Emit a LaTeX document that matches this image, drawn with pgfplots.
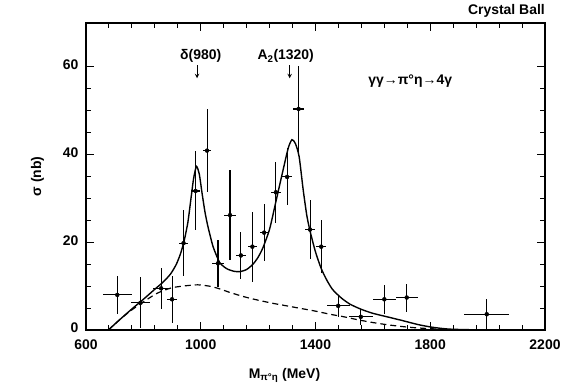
\documentclass[border=0pt]{standalone}
\usepackage{fontspec}
\setmainfont{Liberation Sans}
\usepackage{pgfplots}
\pgfplotsset{compat=1.18}
\pgfplotstableread{
x     y     ex   ey
709   8.0   50   4.4
790   6.2   32   5.8
862   9.5   29   4.7
900   7.0   17   5.3
940   19.8  17   7.6
982   31.7  17   9.0
1022  40.9  15   9.4
1060  15.2  20   5.3
1102  26.2  20   10.3
1140  17.0  17   5.3
1180  19.0  17   8.0
1221  22.2  16   6.5
1262  31.4  17   6.9
1301  34.9  18   6.5
1341  50.4  18   9.8
1381  22.9  17   6.7
1420  19.0  18   6.0
1479  5.5   40   2.5
1558  3.0   42   1.9
1640  7.0   41   3.3
1718  7.4   38   3.2
1997  3.6   78   3.4
}\datatable
\begin{document}
\begin{tikzpicture}
\begin{axis}[
  scale only axis, width=459bp, height=307bp,
  xmin=600, xmax=2200, ymin=0, ymax=70,
  xtick={600,1000,1400,1800,2200}, ytick={0,20,40,60},
  minor x tick num=4, minor y tick num=3,
  tick align=inside, major tick length=8bp, minor tick length=5bp,
  axis line style={line width=1.3pt},
  every tick/.style={line width=1pt, black},
  tick label style={font=\fontsize{14}{16}\selectfont\bfseries},
  /pgf/number format/assume math mode=true,
  /pgf/number format/set thousands separator={},
  xticklabel style={yshift=-6bp},
  yticklabel style={xshift=-4bp, yshift=2bp},
  xlabel={M\textsubscript{π°η} (MeV)},
  xlabel style={font=\fontsize{14}{16}\selectfont\bfseries, xshift=-31bp, yshift=-12bp},
  ylabel={σ (nb)},
  ylabel style={font=\fontsize{14}{16}\selectfont\bfseries, yshift=12bp},
  clip=false,
]
\addplot[black, only marks, mark=none,
  error bars/.cd, x dir=both, x explicit, y dir=both, y explicit,
  error mark=none, error bar style={black, line width=1.1pt, solid}]
  table[x=x, y=y, x error=ex, y error=ey] {\datatable};
\addplot[black, line width=1.4pt, smooth, tension=0.4] coordinates {
(678,0) (720,2.5) (760,4.8) (800,7.0) (840,9.3) (870,11.0) (895,12.8) (915,15) (930,17.5) (942,20.3) (955,24.5) (965,29.5) (975,34.5) (985,37.3) (995,35.5) (1005,31) (1015,26.8) (1025,23.6) (1043,19.0) (1066,15.4) (1090,14.0) (1115,13.4) (1136,13.3) (1160,13.8) (1182,15.0) (1200,16.6) (1217,18.8) (1240,23.0) (1261,29.0) (1286,36.2) (1305,41.5) (1318,43.4) (1330,42.5) (1343,39.5) (1357,32) (1370,26) (1382,22.3) (1400,17.8) (1420,14.0) (1440,11.3) (1460,9.2) (1490,7.3) (1520,5.9) (1560,4.7) (1600,3.8) (1650,3.0) (1700,2.2) (1760,1.2) (1810,0.6) (1866,0.2) (1950,0.05) (2040,0)
};
\addplot[black, line width=1.2pt, dashed, dash pattern=on 6bp off 4bp, smooth, tension=0.4] coordinates {
(678,0) (720,2.5) (760,4.6) (800,6.4) (840,8.1) (870,9.0) (904,9.7) (950,10.1) (990,10.3) (1030,10.0) (1060,9.5) (1100,8.6) (1150,7.6) (1200,6.8) (1250,6.1) (1300,5.5) (1350,4.9) (1400,4.3) (1450,3.6) (1500,3.0) (1550,2.3) (1600,1.7) (1650,1.2) (1700,0.8) (1750,0.5) (1800,0.3) (1850,0.15) (1900,0.05) (1950,0)
};
\node[font=\fontsize{14}{16}\selectfont\bfseries] at (axis cs:1000,62.4) {δ(980)};
\node[font=\fontsize{14}{16}\selectfont\bfseries] at (axis cs:1296,62.4) {A\textsubscript{2}(1320)};
\draw[-stealth, line width=1pt] (axis cs:987,60.4) -- (axis cs:987,57.4);
\draw[-stealth, line width=1pt] (axis cs:1310,60.4) -- (axis cs:1310,57.4);
\node[font=\fontsize{14}{16}\selectfont\bfseries] at (axis cs:1730,56.7) {γγ→π°η→4γ};
\node[font=\fontsize{14}{16}\selectfont\bfseries, anchor=south east, inner sep=0pt] at (rel axis cs:1,1) [yshift=5bp] {Crystal Ball};
\end{axis}
\pgfresetboundingbox
\path ([xshift=-86bp,yshift=-60bp]current axis.south west) rectangle ([xshift=34bp,yshift=23bp]current axis.north east);
\end{tikzpicture}
\end{document}
